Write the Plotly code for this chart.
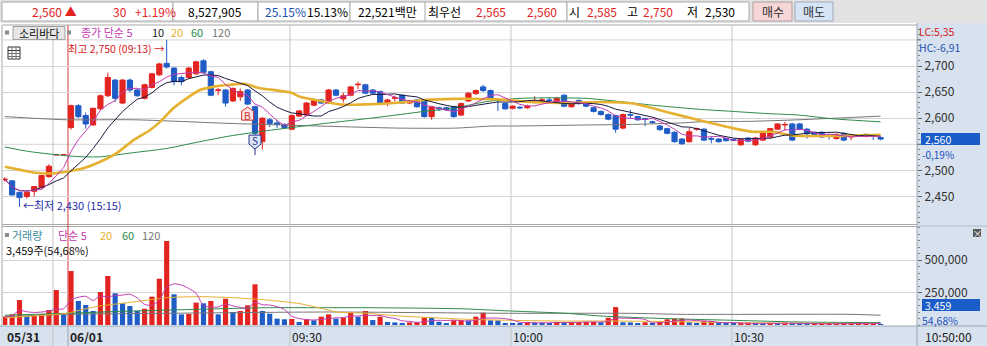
import plotly.graph_objects as go
import pandas as pd

W, H = 987, 346
FONT = "Noto Sans CJK KR"

# ---------------- data ----------------
idx = list(range(-9, 111))  # minute index, 0 = 06/01 09:00

opens = [2482, 2480, 2458, 2450, 2460, 2467, 2488, 2530, 2530,
         2582, 2624, 2605, 2587, 2618, 2643, 2673, 2629, 2673, 2654,
         2638, 2659, 2683, 2705, 2696, 2678, 2678, 2685, 2710, 2689,
         2653, 2654, 2633, 2641, 2654, 2622, 2555, 2597, 2591, 2588,
         2579, 2604, 2606, 2625, 2635, 2629, 2654, 2637, 2644, 2664,
         2664, 2654, 2651, 2629, 2638, 2644, 2629, 2635, 2633, 2603,
         2620, 2620, 2622, 2606, 2633, 2647, 2660, 2653, 2635, 2628,
         2619, 2621, 2620, 2630, 2634, 2635, 2632, 2644, 2622, 2634,
         2628, 2620, 2613, 2607, 2605, 2581, 2607, 2603, 2599, 2593,
         2585, 2580, 2573, 2560, 2555, 2579, 2579, 2561, 2560, 2561,
         2559, 2549, 2562, 2549, 2558, 2564, 2579, 2587, 2589, 2589,
         2579, 2573, 2573, 2567, 2561, 2571, 2564, 2566, 2565, 2567, 2563]
closes = [2483, 2453, 2448, 2458, 2469, 2490, 2508, 2530, 2530,
          2624, 2603, 2589, 2619, 2643, 2678, 2638, 2673, 2654, 2643,
          2664, 2685, 2704, 2698, 2670, 2670, 2696, 2708, 2688, 2644,
          2654, 2629, 2657, 2651, 2627, 2571, 2600, 2590, 2588, 2582,
          2605, 2614, 2629, 2635, 2629, 2654, 2644, 2643, 2660, 2665,
          2648, 2648, 2629, 2635, 2639, 2629, 2633, 2622, 2603, 2622,
          2618, 2616, 2603, 2628, 2648, 2653, 2653, 2637, 2634, 2618,
          2623, 2620, 2623, 2634, 2635, 2634, 2638, 2623, 2628, 2628,
          2623, 2613, 2607, 2598, 2579, 2607, 2606, 2597, 2598, 2592,
          2578, 2571, 2555, 2551, 2574, 2580, 2558, 2560, 2555, 2557,
          2558, 2559, 2556, 2562, 2571, 2580, 2589, 2588, 2558, 2579,
          2570, 2569, 2564, 2566, 2569, 2558, 2565, 2567, 2569, 2566, 2560]
highs = [2487, 2481, 2459, 2460, 2470, 2491, 2512, 2530, 2530,
         2626, 2627, 2611, 2620, 2645, 2687, 2675, 2675, 2676, 2656,
         2666, 2687, 2706, 2750, 2698, 2682, 2698, 2710, 2713, 2691,
         2658, 2656, 2659, 2657, 2656, 2624, 2602, 2600, 2597, 2590,
         2607, 2616, 2631, 2637, 2637, 2656, 2656, 2649, 2662, 2670,
         2666, 2656, 2653, 2637, 2643, 2646, 2635, 2637, 2635, 2624,
         2622, 2622, 2624, 2630, 2650, 2655, 2664, 2655, 2637, 2630,
         2625, 2623, 2626, 2642, 2640, 2640, 2641, 2646, 2630, 2636,
         2630, 2622, 2615, 2609, 2607, 2609, 2616, 2605, 2601, 2595,
         2587, 2582, 2575, 2562, 2581, 2582, 2581, 2564, 2562, 2562,
         2561, 2561, 2563, 2564, 2572, 2581, 2590, 2593, 2591, 2591,
         2581, 2575, 2575, 2569, 2571, 2573, 2567, 2569, 2570, 2570, 2564]
lows = [2479, 2452, 2430, 2446, 2450, 2465, 2486, 2530, 2530,
        2578, 2600, 2580, 2586, 2616, 2641, 2631, 2627, 2650, 2641,
        2636, 2657, 2681, 2695, 2663, 2663, 2676, 2683, 2686, 2642,
        2644, 2622, 2631, 2633, 2625, 2560, 2540, 2583, 2581, 2580,
        2577, 2602, 2604, 2623, 2627, 2627, 2642, 2630, 2642, 2656,
        2646, 2646, 2627, 2623, 2632, 2627, 2627, 2620, 2601, 2597,
        2614, 2614, 2601, 2604, 2631, 2645, 2650, 2635, 2614, 2616,
        2617, 2617, 2618, 2628, 2630, 2630, 2631, 2621, 2620, 2626,
        2621, 2611, 2605, 2596, 2572, 2579, 2599, 2595, 2585, 2589,
        2576, 2569, 2553, 2549, 2553, 2576, 2556, 2552, 2553, 2555,
        2556, 2547, 2554, 2547, 2556, 2562, 2577, 2576, 2556, 2577,
        2561, 2567, 2562, 2559, 2559, 2556, 2558, 2564, 2563, 2558, 2558]
volumes = [64000, 82000, 192000, 69000, 75000, 82000, 115000, 269000, 82000,
           415000, 185000, 154000, 108000, 254000, 377000, 244000, 167000, 146000, 108000,
           125000, 218000, 356000, 646000, 236000, 82000, 85000, 172000, 167000, 185000,
           82000, 202000, 100000, 108000, 151000, 313000, 108000, 87000, 49000, 44000,
           46000, 23000, 44000, 36000, 64000, 82000, 49000, 56000, 95000, 64000,
           108000, 38000, 64000, 23000, 20000, 13000, 20000, 23000, 56000, 54000,
           25000, 15000, 36000, 37000, 35000, 64000, 95000, 36000, 35000, 13000,
           12000, 10000, 23000, 20000, 18000, 12000, 23000, 20000, 22000, 23000,
           24000, 25000, 21000, 56000, 138000, 21000, 20000, 13000, 21000, 12000,
           26000, 44000, 49000, 50000, 21000, 8000, 30000, 31000, 12000, 11000,
           10000, 13000, 18000, 12000, 11000, 14000, 12000, 18000, 12000, 9000,
           8000, 9000, 10000, 10500, 11000, 11500, 12000, 12500, 13000, 13500, 3459]

# moving averages (price)
ma20_x = [-9, -6.9, -5.1, -2.85, -0.4, 1.7, 3.9, 6.2, 8.5, 10.7, 12.1, 13.9, 15.7, 17.5, 19.3,
          21.6, 23.6, 25.5, 29.9, 31.1, 33.2, 36.8, 41.3, 44.7, 48, 52, 58, 62.6, 67.2, 71.8,
          76.4, 80.9, 85.4, 89.9, 92.6, 95.3, 98, 103.4, 110]
ma20_v = [2507, 2501, 2496, 2494, 2498, 2504, 2516, 2533, 2558, 2577, 2593, 2619, 2638, 2654, 2660,
          2664, 2666, 2658, 2649, 2641, 2635, 2626, 2627, 2630, 2635, 2637, 2636, 2631, 2629, 2631,
          2628, 2612, 2596, 2581, 2574, 2574, 2567, 2566, 2568]
ma60_x = [-9, -6.9, -5.1, -0.6, 1.7, 3.9, 8.5, 13, 17.5, 21.6, 25.5, 34.5, 41.3, 48, 52, 56.5,
          61, 65.5, 70, 74.5, 79, 82.1, 85.4, 89.9, 94.4, 98.9, 103.4, 110]
ma60_v = [2545, 2539, 2535, 2528, 2526, 2526, 2534, 2542, 2555, 2566, 2574, 2590, 2601, 2613, 2619, 2632,
          2638, 2639, 2638, 2632, 2625, 2621, 2617, 2613, 2609, 2606, 2599, 2593]
ma120_x = [-9, -0.6, 8.5, 21.6, 31.1, 44.7, 52.2, 57.2, 60.2, 70, 76, 83, 85.4, 92.2, 98.9, 110]
ma120_v = [2603, 2597, 2597, 2590, 2586, 2581, 2581, 2585, 2585, 2587, 2588, 2591, 2593, 2594, 2597, 2604]

# moving averages (volume)
vma20_x = [-9, -0.6, 1.7, 3.9, 8.5, 13, 17.5, 22.1, 26.6, 31, 35, 36, 40.2, 44.7, 49.2, 53.8,
           59.6, 67, 72, 81, 90, 99, 110]
vma20_v = [56000, 90000, 121000, 146000, 177000, 210000, 218000, 210000, 192000, 165000, 115000,
           100000, 90000, 69000, 56000, 44000, 36000, 30000, 31000, 27000, 18000, 14000, 12000]
vma60_x = [-9, -0.6, 8.5, 17.5, 26.6, 35, 40.2, 52.9, 59.6, 67.3, 72, 81, 90, 99, 110]
vma60_v = [75000, 90000, 108000, 121000, 133000, 133000, 133000, 125000, 108000, 90000, 69000,
           49000, 36000, 23000, 18000]
vma120_x = [-9, -0.6, 13, 35, 59.6, 76, 83, 106, 110]
vma120_v = [64000, 82000, 90000, 100000, 90000, 90000, 82000, 82000, 75000]

time_labels = ["05/31", "06/01", "09:30", "10:00", "10:30"]
time_pos = [-9.0, -0.41, 29.76, 59.78, 89.8]
price_ticks = [2450, 2500, 2600, 2650, 2700]      # labelled ticks
price_grid_extra = [2550, 2750]                   # grid rows whose labels are covered
vol_ticks = [250000, 500000]
buy_idx = [24]
sell_idx = [25]

# ---------------- derived ----------------
ma5 = pd.Series(closes).rolling(5, min_periods=1).mean()
ma10 = pd.Series(closes).rolling(10, min_periods=1).mean()
vma5 = pd.Series(volumes).rolling(5, min_periods=1).mean()

RED = '#e3231f'
BLUE = '#1f5cc6'
C5, C10, C20, C60, C120 = '#c23ab0', '#1a1a40', '#e6b030', '#2a8a4a', '#767676'
GRID = '#d4d4d4'
PANEL = '#d8e2ee'

vol_colors = []
for k, v in enumerate(volumes):
    vol_colors.append(RED if k == 0 or v >= volumes[k - 1] else BLUE)

# pixel layout
PX0, PX1 = 3, 917
CX0, DX = 71, 7.36
xr = [(PX0 - CX0) / DX, (PX1 - CX0) / DX]
P_TOP, P_BOT = 26, 224
yr = [2700 - (P_BOT - 66) / 0.522, 2700 + (66 - P_TOP) / 0.522]
V_TOP, V_BOT = 227, 325
vr = [0, (V_BOT - V_TOP) / 32.5 * 250000]


def px(x):
    return x / W


def py(y):
    return 1 - y / H


fig = go.Figure()
fig.add_trace(go.Candlestick(
    x=idx, open=opens, high=highs, low=lows, close=closes,
    increasing=dict(line=dict(color=RED, width=1), fillcolor=RED),
    decreasing=dict(line=dict(color=BLUE, width=1), fillcolor=BLUE),
    whiskerwidth=0, hoverinfo='skip', xaxis='x', yaxis='y'))

for xs, ys, c, w in [(ma120_x, ma120_v, C120, 1), (ma60_x, ma60_v, C60, 1),
                     (ma20_x, ma20_v, C20, 2.6)]:
    fig.add_trace(go.Scatter(x=xs, y=ys, mode='lines', line=dict(color=c, width=w, shape='spline', smoothing=0.6),
                             hoverinfo='skip', xaxis='x', yaxis='y'))
fig.add_trace(go.Scatter(x=idx, y=ma10, mode='lines', line=dict(color=C10, width=1),
                         hoverinfo='skip', xaxis='x', yaxis='y'))
fig.add_trace(go.Scatter(x=idx, y=ma5, mode='lines', line=dict(color=C5, width=1),
                         hoverinfo='skip', xaxis='x', yaxis='y'))

fig.add_trace(go.Bar(x=idx, y=volumes, marker=dict(color=vol_colors, line=dict(width=0)),
                     hoverinfo='skip', xaxis='x2', yaxis='y2'))
for xs, ys, c in [(vma120_x, vma120_v, C120), (vma60_x, vma60_v, C60), (vma20_x, vma20_v, C20)]:
    fig.add_trace(go.Scatter(x=xs, y=ys, mode='lines', line=dict(color=c, width=1, shape='spline', smoothing=0.6),
                             hoverinfo='skip', xaxis='x2', yaxis='y2'))
fig.add_trace(go.Scatter(x=idx, y=vma5, mode='lines', line=dict(color=C5, width=1, shape='spline', smoothing=0.6),
                         hoverinfo='skip', xaxis='x2', yaxis='y2'))

shapes = []
ann = []


def rect(x0, y0, x1, y1, fill, line=None, lw=1, layer='below'):
    shapes.append(dict(type='rect', xref='paper', yref='paper', x0=px(x0), x1=px(x1), y0=py(y0), y1=py(y1),
                       fillcolor=fill, line=dict(color=line or fill, width=lw if line else 0), layer=layer))


def hline(x0, x1, y, color, w=1, layer='below'):
    shapes.append(dict(type='line', xref='paper', yref='paper', x0=px(x0), x1=px(x1), y0=py(y), y1=py(y),
                       line=dict(color=color, width=w), layer=layer))


def vline(x, y0, y1, color, w=1, layer='below'):
    shapes.append(dict(type='line', xref='paper', yref='paper', x0=px(x), x1=px(x), y0=py(y0), y1=py(y1),
                       line=dict(color=color, width=w), layer=layer))


def txt(x, y, s, color='#000000', size=12, anchor='left', xref='paper', yref='paper', **kw):
    xx = px(x) if xref == 'paper' else x
    yy = py(y) if yref == 'paper' else y
    ann.append(dict(x=xx, y=yy, xref=xref, yref=yref, text=s, showarrow=False, xanchor=anchor,
                    yanchor='middle', borderpad=0, font=dict(family=FONT, size=size, color=color), **kw))


# ---- top toolbar ----
rect(0, 0, W, 23, '#e2e2e2')
for a, b in [(2, 173), (173, 258), (258, 350), (350, 567), (567, 749)]:
    rect(a, 2, b, 21, '#ffffff', '#a8a8a8')
vline(425, 2, 21, '#a8a8a8')
rect(753, 2, 792, 21, '#f6d6d6', '#b0a0a0')
rect(795, 2, 833, 21, '#d6e4f6', '#a0a8b8')
ty = 12
txt(31, ty, "2,560 ▲", RED)
txt(112, ty, "30", RED)
txt(134, ty, "+1.19%", RED)
txt(187, ty, "8,527,905")
txt(264, ty, "25.15%", '#2050b0')
txt(306, ty, "15.13%")
txt(357, ty, "22,521백만")
txt(427, ty, "최우선")
txt(475, ty, "2,565", RED)
txt(526, ty, "2,560", RED)
txt(568, ty, "시")
txt(586, ty, "2,585", RED)
txt(626, ty, "고")
txt(642, ty, "2,750", RED)
txt(686, ty, "저")
txt(704, ty, "2,530")
txt(772.5, ty, "매수", '#303030', anchor='center')
txt(814, ty, "매도", '#303030', anchor='center')

# ---- panels ----
rect(PX1, 23, W, 326, PANEL)
rect(0, 326, W, H, PANEL)
hline(0, W, 326, '#9aa6b4')
vline(PX1, 23, H, '#9aa6b4')
hline(2, PX1, 25, '#a8a8a8')
hline(2, PX1, 224.5, '#a8a8a8')
hline(2, PX1, 226.5, '#a8a8a8')
vline(2, 25, 326, '#a8a8a8')
hline(PX1, W, 226, '#b0bccc')

# extra horizontal grid rows (label hidden in the reference)
for gv in price_grid_extra:
    shapes.append(dict(type='line', xref='paper', yref='y', x0=px(PX0), x1=px(PX1), y0=gv, y1=gv,
                       line=dict(color=GRID, width=1), layer='below'))
    shapes.append(dict(type='line', xref='paper', yref='y', x0=px(PX1), x1=px(PX1 + 4), y0=gv, y1=gv,
                       line=dict(color='#606060', width=1), layer='below'))

# vertical grid / separators (data x)
for xv in [-2.45] + time_pos[2:]:
    shapes.append(dict(type='line', xref='x', yref='paper', x0=xv, x1=xv, y0=py(H), y1=py(25),
                       line=dict(color='#c4c4c4', width=1), layer='below'))
shapes.append(dict(type='line', xref='x', yref='paper', x0=time_pos[1], x1=time_pos[1], y0=py(326), y1=py(25),
                   line=dict(color='#d23a3a', width=1), layer='below'))
shapes.append(dict(type='line', xref='x', yref='paper', x0=time_pos[1], x1=time_pos[1], y0=py(H), y1=py(326),
                   line=dict(color='#9aa6b4', width=1), layer='below'))

# ---- price legend ----
LS = 11
rect(5, 30.5, 9, 34.5, '#8c8c8c')
rect(13, 26.5, 65, 39.5, '#e6e6e6', '#a0a0a0')
txt(39, 32.5, "소리바다", '#101010', size=LS, anchor='center')
rect(67, 30.5, 71, 34.5, '#8c8c8c')
txt(80, 32, "종가 단순 5", C5, size=LS)
txt(151, 32, "10", '#202020', size=LS)
txt(170, 32, "20", C20, size=LS)
txt(190, 32, "60", C60, size=LS)
txt(211, 32, "120", C120, size=LS)
# grid icon
rect(8, 47, 20, 59, '#ffffff', '#303030')
hline(8, 20, 50.5, '#303030')
hline(8, 20, 53.5, '#707070')
hline(8, 20, 56.5, '#707070')
vline(12, 47, 59, '#707070')
vline(16, 47, 59, '#707070')

# high / low labels anchored to data
hi_i = highs.index(max(highs))
lo_i = lows.index(min(lows))
txt(idx[hi_i], max(highs), "최고 2,750 (09:13) →", '#d82020', size=10.5, anchor='right', xref='x', yref='y',
    xshift=-1, yshift=-8.5)
txt(idx[lo_i], min(lows), "←최저 2,430 (15:15)", '#1a2aa8', size=LS, anchor='left', xref='x', yref='y',
    xshift=3, yshift=2)

# buy / sell markers
for b in buy_idx:
    k = idx.index(b)
    shapes.append(dict(type='path', xref='x', yref='y', xsizemode='pixel', ysizemode='pixel',
                       xanchor=b, yanchor=lows[k], path='M 0 -2 L 6 -6 L 6 -15 L -6 -15 L -6 -6 Z',
                       fillcolor='#fde2e2', line=dict(color='#d03030', width=1), layer='above'))
    txt(b, lows[k], "B", '#d03030', size=10, anchor='center', xref='x', yref='y', yshift=-10)
for s in sell_idx:
    k = idx.index(s)
    shapes.append(dict(type='path', xref='x', yref='y', xsizemode='pixel', ysizemode='pixel',
                       xanchor=s, yanchor=lows[k], path='M -6 4 L 6 4 L 6 -5 L 0 -10 L -6 -5 Z',
                       fillcolor='#dce6fa', line=dict(color='#203080', width=1), layer='above'))
    shapes.append(dict(type='line', xref='x', yref='y', xsizemode='pixel', ysizemode='pixel',
                       xanchor=s, yanchor=lows[k], x0=0, x1=0, y0=-10, y1=-16,
                       line=dict(color='#203080', width=1), layer='above'))
    txt(s, lows[k], "S", '#203080', size=10, anchor='center', xref='x', yref='y', yshift=-1)

# right panel texts
txt(918, 32, "LC:5,35", '#d02020', size=10.5)
txt(918, 48, "HC:-6,91", '#2050b0', size=10.5)
shapes.append(dict(type='rect', xref='paper', yref='y', ysizemode='pixel', yanchor=closes[-1],
                   x0=px(921), x1=px(980), y0=-6, y1=6, fillcolor='#1a5cc8', line=dict(width=0), layer='above'))
ann.append(dict(x=px(924), y=closes[-1], xref='paper', yref='y', text="2,560", showarrow=False,
                xanchor='left', yanchor='middle', borderpad=0, font=dict(family=FONT, size=10.5, color='#ffffff')))
txt(921, 154.5, "-0,19%", '#2050c0', size=10)

# volume legend
rect(5, 233, 9, 237, '#8c8c8c')
txt(11, 235, "거래량", '#3a8c9c', size=LS)
txt(57, 235, "단순 5", C5, size=LS)
txt(99, 235, "20", C20, size=LS)
txt(121, 235, "60", C60, size=LS)
txt(141, 235, "120", C120, size=LS)
txt(5, 250, "3,459주(54,68%)", '#101010', size=LS)
rect(922, 299, 980, 311, '#1a5cc8', layer='above')
txt(924, 305, "3,459", '#ffffff', size=10.5)
txt(921, 320.5, "54,68%", '#2050c0', size=10.5)
rect(973, 229, 981, 237, '#5a5a5a', layer='above')
txt(977, 233, "×", '#ffffff', size=9, anchor='center')

# x axis labels
for k, (lab, pos) in enumerate(zip(time_labels, time_pos)):
    bold = k < 2
    ann.append(dict(x=pos, y=py(336), xref='x', yref='paper', text=f"<b>{lab}</b>" if bold else lab,
                    showarrow=False, xanchor='left', yanchor='middle', xshift=1, borderpad=0,
                    font=dict(family=FONT, size=12, color='#202020')))
txt(924, 336, "10:50:00", '#202020')

ax_common = dict(showgrid=False, zeroline=False, showticklabels=False, fixedrange=True, showline=False)
fig.update_layout(
    width=W, height=H, margin=dict(l=0, r=0, t=0, b=0),
    paper_bgcolor='#ffffff', plot_bgcolor='rgba(0,0,0,0)', showlegend=False,
    bargap=0.3, boxgap=0.3, boxgroupgap=0.0,
    xaxis=dict(domain=[px(PX0), px(PX1)], range=xr, anchor='y', rangeslider=dict(visible=False), **ax_common),
    xaxis2=dict(domain=[px(PX0), px(PX1)], range=xr, anchor='y2', **ax_common),
    yaxis=dict(domain=[py(P_BOT), py(P_TOP)], range=yr, anchor='x', side='right',
               tickmode='array', tickvals=price_ticks, ticktext=[f"{v:,}" for v in price_ticks],
               ticks='outside', ticklen=4, tickcolor='#606060', showgrid=True, gridcolor=GRID, gridwidth=1,
               zeroline=False, showline=False, fixedrange=True,
               tickfont=dict(family=FONT, size=12, color='#303030'),
               minor=dict(tickmode='linear', tick0=2450, dtick=10, ticks='outside', ticklen=2,
                          tickcolor='#808080', showgrid=False)),
    yaxis2=dict(domain=[py(V_BOT), py(V_TOP)], range=vr, anchor='x2', side='right',
                tickmode='array', tickvals=vol_ticks, ticktext=[f"{v:,}" for v in vol_ticks],
                ticks='outside', ticklen=4, tickcolor='#606060', showgrid=True, gridcolor=GRID,
                zeroline=False, showline=False, fixedrange=True,
                tickfont=dict(family=FONT, size=12, color='#303030'),
                minor=dict(tickmode='linear', tick0=0, dtick=50000, ticks='outside', ticklen=2,
                           tickcolor='#808080', showgrid=False)),
    shapes=shapes, annotations=ann,
)

fig.write_html("out.html")
